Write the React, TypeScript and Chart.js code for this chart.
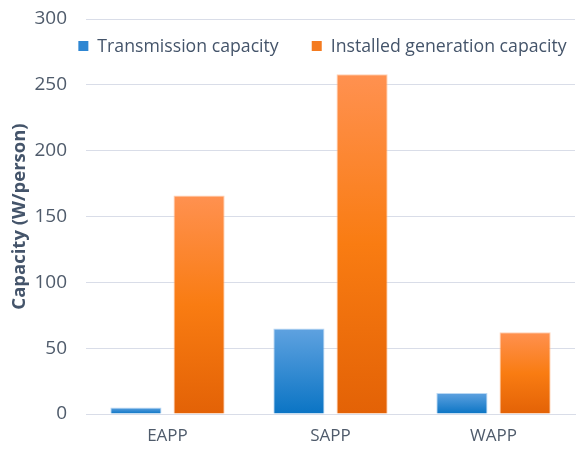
import React, { useEffect, useRef } from "react";
import { Chart, registerables } from "chart.js";

Chart.register(...registerables);

const categories = ["EAPP", "SAPP", "WAPP"];
const transmission = [5, 65, 16];
const installed = [166, 258, 62];
const seriesNames = ["Transmission capacity", "Installed generation capacity"];
const legendColors = ["#2E86D2", "#F47B20"];
const yTicksMax = 300;
const yStep = 50;

const FONT = "'Open Sans', 'Liberation Sans', sans-serif";
const TEXT = "#44546A";
const TICK = "#4F5B6B";

function gradientFor(stops: [number, string][], solid: string) {
  return (ctx: any) => {
    const chart = ctx.chart;
    if (!chart.chartArea || ctx.type !== "data") return solid;
    const y = chart.scales.y;
    const top = y.getPixelForValue(ctx.raw);
    const base = y.getPixelForValue(0);
    if (!isFinite(top) || !isFinite(base) || top === base) return solid;
    const g = chart.ctx.createLinearGradient(0, top, 0, base);
    stops.forEach(([o, c]) => g.addColorStop(o, c));
    return g;
  };
}

const insideLegend = {
  id: "insideLegend",
  afterDraw(chart: any) {
    const { ctx, chartArea } = chart;
    const size = 17.7;
    ctx.save();
    ctx.font = `${size}px ${FONT}`;
    const box = 10;
    const boxGap = 9;
    const itemGap = 33;
    const widths = seriesNames.map((t) => ctx.measureText(t).width);
    const total =
      widths.reduce((a, b) => a + b, 0) + seriesNames.length * (box + boxGap) + itemGap * (seriesNames.length - 1);
    let x = (chartArea.left + chartArea.right) / 2 - 8 - total / 2;
    const cy = chartArea.top + 27;
    ctx.textBaseline = "middle";
    ctx.textAlign = "left";
    seriesNames.forEach((t, i) => {
      ctx.fillStyle = legendColors[i];
      ctx.fillRect(x, cy - box / 2, box, box);
      x += box + boxGap;
      ctx.fillStyle = TEXT;
      ctx.fillText(t, x, cy + 1);
      x += widths[i] + itemGap;
    });
    ctx.restore();
  },
};

export default function App() {
  const ref = useRef<HTMLCanvasElement>(null);
  useEffect(() => {
    document.body.style.margin = "0";
    const chart = new Chart(ref.current!, {
      type: "bar",
      data: {
        labels: categories,
        datasets: [
          {
            label: seriesNames[0],
            data: transmission,
            backgroundColor: gradientFor(
              [
                [0, "#5FA2E0"],
                [1, "#0A74C4"],
              ],
              "#2E86D2"
            ),
            borderColor: "rgba(140,190,235,0.6)",
            borderWidth: 1,
            barPercentage: 0.81,
            categoryPercentage: 0.775,
          },
          {
            label: seriesNames[1],
            data: installed,
            backgroundColor: gradientFor(
              [
                [0, "#FF9150"],
                [0.5, "#F97C12"],
                [1, "#E36206"],
              ],
              "#F47B20"
            ),
            borderColor: "rgba(255,190,150,0.7)",
            borderWidth: 1,
            barPercentage: 0.81,
            categoryPercentage: 0.775,
          },
        ],
      },
      plugins: [insideLegend],
      options: {
        animation: false,
        responsive: false,
        maintainAspectRatio: false,
        layout: { padding: { top: 19, right: 1, bottom: 0, left: 0 } },
        plugins: {
          tooltip: { enabled: false },
          legend: { display: false },
        },
        scales: {
          x: {
            grid: { display: false, drawTicks: false },
            border: { color: "#D9DDE8", width: 1 },
            ticks: {
              color: TICK,
              font: { family: FONT, size: 17 },
              padding: 12,
            },
            afterFit: (s: any) => {
              s.height = 36;
              s.paddingLeft = 0;
              s.paddingRight = 0;
            },
          },
          y: {
            min: 0,
            max: yTicksMax,
            ticks: {
              stepSize: yStep,
              color: TICK,
              font: { family: FONT, size: 19 },
              padding: 19,
            },
            grid: { color: "#D9DDE8", lineWidth: 1, drawTicks: false },
            border: { display: false },
            title: {
              display: true,
              text: "Capacity (W/person)",
              color: TEXT,
              font: { family: FONT, size: 18.5, weight: "bold" },
              padding: { top: 9, bottom: 0 },
            },
            afterFit: (s: any) => {
              s.width = 86;
              s.paddingTop = 0;
              s.paddingBottom = 0;
            },
          },
        },
      },
    } as any);
    return () => chart.destroy();
  }, []);
  return (
    <div style={{ width: 576, height: 450, background: "#fff" }}>
      <canvas ref={ref} width={576} height={450} style={{ display: "block" }} />
    </div>
  );
}
